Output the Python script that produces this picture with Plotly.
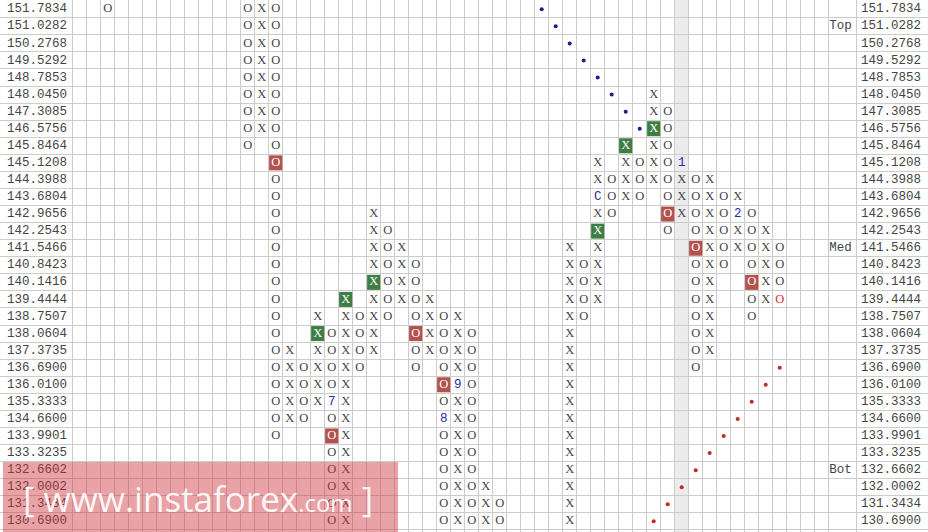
import plotly.graph_objects as go

# ---------------- data ----------------
price_labels = ["151.7834", "151.0282", "150.2768", "149.5292", "148.7853", "148.0450",
                "147.3085", "146.5756", "145.8464", "145.1208", "144.3988", "143.6804",
                "142.9656", "142.2543", "141.5466", "140.8423", "140.1416", "139.4444",
                "138.7507", "138.0604", "137.3735", "136.6900", "136.0100", "135.3333",
                "134.6600", "133.9901", "133.3235", "132.6602", "132.0002", "131.3434",
                "130.6900"]

# point & figure columns: column slot, box type, top price, bottom price
col_slot = [2, 12, 13, 14, 15, 16, 17, 18, 19, 20, 21, 22, 23, 24, 25, 26, 27, 28, 29, 30,
            35, 36, 37, 38, 39, 40, 41, 42, 43, 44, 45, 46, 47, 48, 49, 50]
col_kind = ["O", "O", "X", "O", "X", "O", "X", "O", "X", "O", "X", "O", "X", "O", "X", "O", "X", "O", "X", "O",
            "X", "O", "X", "O", "X", "O", "X", "O", "X", "O", "X", "O", "X", "O", "X", "O"]
col_top = ["151.7834", "151.7834", "151.7834", "151.7834", "137.3735", "136.6900", "138.7507",
           "138.0604", "139.4444", "138.7507", "142.9656", "142.2543", "141.5466", "140.8423",
           "139.4444", "138.7507", "138.7507", "138.0604", "132.0002", "131.3434",
           "141.5466", "140.8423", "145.1208", "144.3988", "145.8464", "145.1208", "148.0450",
           "147.3085", "145.1208", "144.3988", "144.3988", "143.6804", "143.6804", "142.9656",
           "142.2543", "141.5466"]
col_bot = ["151.7834", "145.8464", "146.5756", "133.9901", "134.6600", "134.6600", "135.3333",
           "130.6900", "130.6900", "136.6900", "137.3735", "138.7507", "139.4444", "136.6900",
           "137.3735", "130.6900", "130.6900", "130.6900", "130.6900", "130.6900",
           "130.6900", "138.7507", "139.4444", "142.9656", "143.6804", "143.6804", "144.3988",
           "142.2543", "142.9656", "136.6900", "137.3735", "140.8423", "141.5466", "138.7507",
           "139.4444", "139.4444"]

# highlighted boxes
green_slot = [21, 19, 17, 37, 39, 41]
green_price = ["140.1416", "139.4444", "138.0604", "142.2543", "145.8464", "146.5756"]
red_slot = [14, 24, 18, 26, 42, 44, 48]
red_price = ["145.1208", "138.0604", "133.9901", "136.0100", "142.9656", "141.5466", "140.1416"]

# month markers
month_slot = [18, 26, 27, 37, 43, 47]
month_price = ["135.3333", "134.6600", "136.0100", "143.6804", "145.1208", "142.9656"]
month_text = ["7", "8", "9", "C", "1", "2"]

# last box (red text)
last_slot = [50]
last_price = ["139.4444"]

# trend lines
res_slot = [33, 34, 35, 36, 37, 38, 39, 40]
res_price = ["151.7834", "151.0282", "150.2768", "149.5292", "148.7853", "148.0450", "147.3085", "146.5756"]
sup_slot = [41, 42, 43, 44, 45, 46, 47, 48, 49, 50]
sup_price = ["130.6900", "131.3434", "132.0002", "132.6602", "133.3235", "133.9901", "134.6600",
             "135.3333", "136.0100", "136.6900"]

level_names = ["Top", "Med", "Bot"]
level_price = ["151.0282", "141.5466", "132.6602"]

current_slot = 43

# ---------------- build ----------------
row = {p: i for i, p in enumerate(price_labels)}
special = set()
for s, p in zip(green_slot + red_slot + month_slot + last_slot,
                green_price + red_price + month_price + last_price):
    special.add((s, row[p]))

nx, ny, nt = [], [], []
for s, k, t, b in zip(col_slot, col_kind, col_top, col_bot):
    for r in range(row[t], row[b] + 1):
        if (s, r) not in special:
            nx.append(s); ny.append(r); nt.append(k)

FONT = "Liberation Mono, Courier New, monospace"
BOXFONT = "Liberation Serif, Times New Roman, serif"
FS = 12.5
INK = "#444444"
fig = go.Figure()

shapes = []
shapes.append(dict(type="rect", xref="x", yref="paper", x0=current_slot - 0.5, x1=current_slot + 0.5,
                   y0=0, y1=1, fillcolor="#ececec", line_width=0, layer="below"))
for s, p in zip(green_slot, green_price):
    r = row[p]
    shapes.append(dict(type="rect", xref="x", yref="y", x0=s - 0.47, x1=s + 0.47, y0=r - 0.44, y1=r + 0.44,
                       fillcolor="#3e7d44", line_width=0, layer="between"))
for s, p in zip(red_slot, red_price):
    r = row[p]
    shapes.append(dict(type="rect", xref="x", yref="y", x0=s - 0.47, x1=s + 0.47, y0=r - 0.44, y1=r + 0.44,
                       fillcolor="#b3514d", line_width=0, layer="between"))


def text_trace(x, y, t, color, family=FONT, size=FS):
    return go.Scatter(x=x, y=y, text=t, mode="text", textposition="middle center", cliponaxis=False,
                      textfont=dict(family=family, size=size, color=color), hoverinfo="skip")


fig.add_trace(text_trace(nx, ny, nt, INK, BOXFONT, 12.5))
fig.add_trace(text_trace(green_slot, [row[p] for p in green_price], ["X"] * len(green_slot), "white", BOXFONT, 12.5))
fig.add_trace(text_trace(red_slot, [row[p] for p in red_price], ["O"] * len(red_slot), "white", BOXFONT, 12.5))
fig.add_trace(text_trace(month_slot, [row[p] for p in month_price], month_text, "#2a2aa0"))
fig.add_trace(text_trace(last_slot, [row[p] for p in last_price], ["O"], "#d83030", BOXFONT, 12.5))
fig.add_trace(go.Scatter(x=res_slot, y=[row[p] for p in res_price], mode="markers",
                         marker=dict(size=4, color="#1c1c8c"), hoverinfo="skip"))
fig.add_trace(go.Scatter(x=sup_slot, y=[row[p] for p in sup_price], mode="markers",
                         marker=dict(size=4, color="#c0282a"), hoverinfo="skip"))

# price scales
yr = list(range(len(price_labels)))
fig.add_trace(text_trace([-3.05] * len(price_labels), yr, price_labels, INK))
fig.add_trace(text_trace([57.95] * len(price_labels), yr, price_labels, INK))
fig.add_trace(text_trace([54.35] * len(level_names), [row[p] for p in level_price], level_names, INK))

# watermark
shapes.append(dict(type="rect", xref="paper", yref="paper", x0=3 / 928, x1=398 / 928, y0=0, y1=70 / 532,
                   fillcolor="rgba(206,52,60,0.45)", line_width=0, layer="above"))
fig.add_annotation(xref="paper", yref="paper", x=198 / 928, y=34 / 532, xanchor="center", yanchor="middle",
                   text="[ www.instaforex<span style='font-size:24px'>.com</span> ]", showarrow=False,
                   font=dict(family="Open Sans, sans-serif", size=35, color="rgba(255,255,255,0.92)"))

xgrid = [(0.7 - 79.7) / 14] + [k - 0.5 for k in range(0, 55)] + [55.5, (927 - 79.7) / 14]
ygrid = [r - 0.5 for r in range(0, 32)]

fig.update_layout(
    width=928, height=532, margin=dict(l=0, r=0, t=0, b=0),
    paper_bgcolor="white", plot_bgcolor="white", showlegend=False, shapes=shapes,
    xaxis=dict(range=[(0 - 79.7) / 14, (928 - 79.7) / 14], tickvals=xgrid, showticklabels=False,
               showgrid=True, gridcolor="#cccccc", gridwidth=1, zeroline=False, showline=False, ticks=""),
    yaxis=dict(range=[(532 - 9.235) / 17.07, (0 - 9.235) / 17.07], tickvals=ygrid, showticklabels=False,
               showgrid=True, gridcolor="#cccccc", gridwidth=1, zeroline=False, showline=False, ticks=""),
)
fig.write_html("out.html", config={"displayModeBar": False},
               post_script="document.body.style.margin='0px';document.body.style.overflow='hidden';")
